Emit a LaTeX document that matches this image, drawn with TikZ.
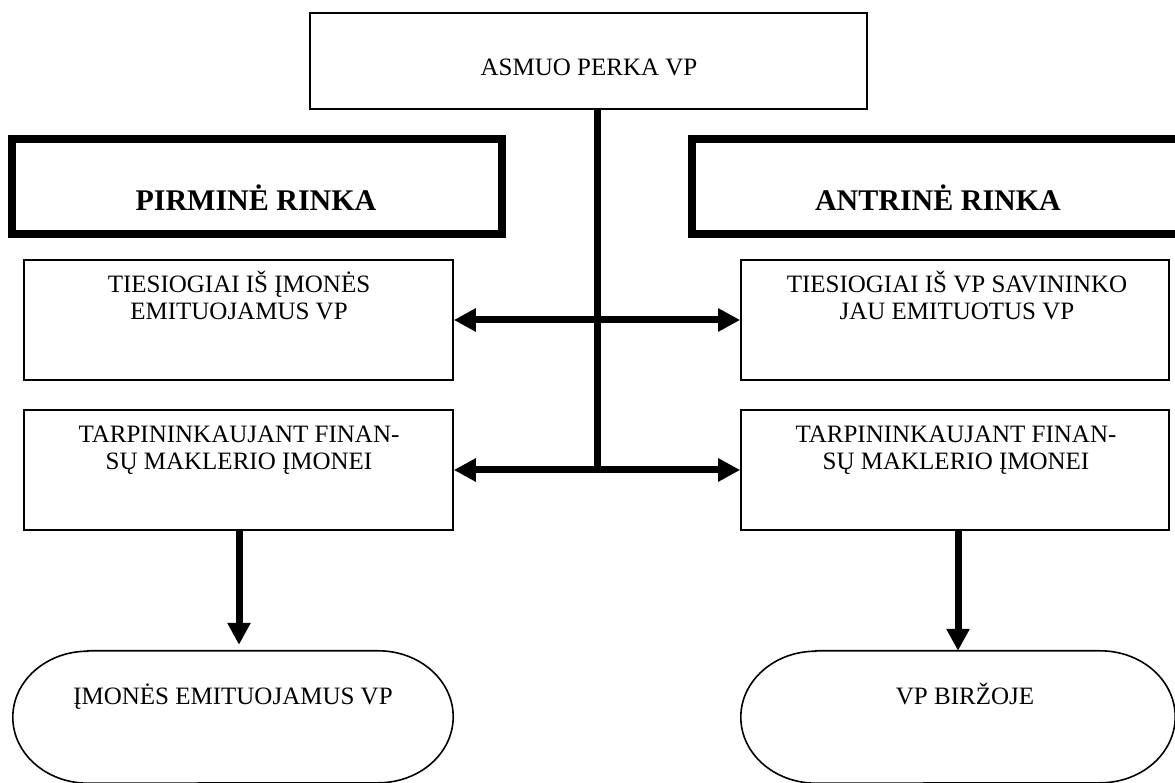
\documentclass[tikz,border=0pt]{standalone}
\usepackage{fontspec}
\setmainfont{Liberation Serif}
\usetikzlibrary{arrows.meta}
\begin{document}
\begin{tikzpicture}[x=1pt,y=1pt,
  thinbox/.style={draw, line width=1.6pt, inner sep=0pt},
  thickbox/.style={draw, line width=8pt, inner sep=0pt},
  noline/.style={inner sep=0pt},
  txt/.style={anchor=base, inner sep=0pt, font=\fontsize{25}{27}\selectfont},
  bigtxt/.style={anchor=base, inner sep=0pt, font=\fontsize{30}{32}\selectfont\bfseries},
  conn/.style={line width=7pt},
  arr/.style={line width=7pt, -{Triangle[length=22pt,width=22pt]}},
  darr/.style={line width=7pt, {Triangle[length=22pt,width=22pt]}-{Triangle[length=22pt,width=22pt]}},
  oval/.style={line width=1.6pt}
]
\useasboundingbox (0,0) rectangle (1175,782);
% top box
\node[thinbox, minimum width=557pt, minimum height=96pt] (top) at (588.5,721) {};
\node[txt] (toptxt) at (589,706) {ASMUO PERKA VP};
% thick headers
\node[thickbox, minimum width=490pt, minimum height=95pt] (pir) at (257,595.5) {};
\node[bigtxt] (pirtxt) at (256,571) {PIRMINĖ RINKA};
\node[thickbox, minimum width=492pt, minimum height=95pt] (ant) at (938,595.5) {};
\node[bigtxt] (anttxt) at (938,571) {ANTRINĖ RINKA};
% direct boxes
\node[thinbox, minimum width=429pt, minimum height=120pt] (pl) at (238.5,462) {};
\node[txt] (pla) at (239,489) {TIESIOGIAI IŠ ĮMONĖS};
\node[txt] (plb) at (239,462) {EMITUOJAMUS VP};
\node[thinbox, minimum width=428pt, minimum height=120pt] (pr) at (955,462) {};
\node[txt] (pra) at (957,489) {TIESIOGIAI IŠ VP SAVININKO};
\node[txt] (prb) at (957,462) {JAU EMITUOTUS VP};
% broker boxes
\node[thinbox, minimum width=429pt, minimum height=120pt] (ql) at (238.5,312) {};
\node[txt] (qla) at (239,339) {TARPININKAUJANT FINAN-};
\node[txt] (qlb) at (239,312) {SŲ MAKLERIO ĮMONEI};
\node[thinbox, minimum width=428pt, minimum height=120pt] (qr) at (955,312) {};
\node[txt] (qra) at (956,339) {TARPININKAUJANT FINAN-};
\node[txt] (qrb) at (956,312) {SŲ MAKLERIO ĮMONEI};
% ovals
\node[noline, minimum width=440pt, minimum height=132pt] (el) at (233,65) {};
\node[txt] (eltxt) at (233,78) {ĮMONĖS EMITUOJAMUS VP};
\node[noline, minimum width=434pt, minimum height=132pt] (er) at (958,65) {};
\node[txt] (ertxt) at (965,78) {VP BIRŽOJE};
\draw[oval] ([xshift=75pt]el.north west) -- ([xshift=-75pt]el.north east)
  arc[start angle=90, end angle=-90, x radius=75pt, y radius=66pt]
  -- ([xshift=75pt]el.south west)
  arc[start angle=270, end angle=90, x radius=75pt, y radius=66pt] -- cycle;
\draw[oval] ([xshift=75pt]er.north west) -- ([xshift=-75pt]er.north east)
  arc[start angle=90, end angle=-90, x radius=75pt, y radius=66pt]
  -- ([xshift=75pt]er.south west)
  arc[start angle=270, end angle=90, x radius=75pt, y radius=66pt] -- cycle;
% connectors
\coordinate (jx) at (597,312);
\draw[conn] (top.south -| jx) -- ([yshift=-3.5pt]jx);
\draw[darr] (pl.east) -- (pr.west);
\draw[darr] (ql.east) -- (qr.west);
\draw[arr, shorten >=6pt] ([xshift=0.5pt]ql.south) -- ([xshift=0.5pt]ql.south |- el.north);
\draw[arr] (qr.south -| er.north) -- (er.north);
\end{tikzpicture}
\end{document}
